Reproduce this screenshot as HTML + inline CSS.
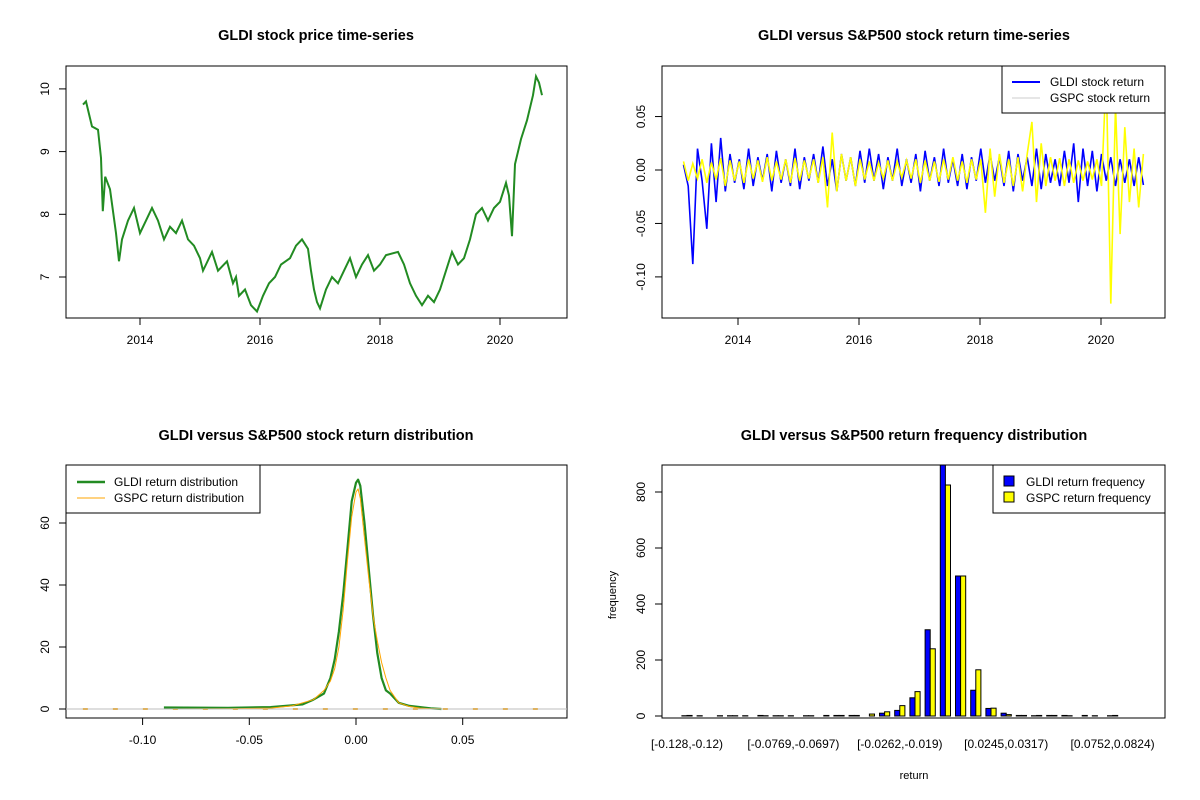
<!DOCTYPE html>
<html><head><meta charset="utf-8"><style>
html,body{margin:0;padding:0;background:#fff}
svg{display:block;font-family:"Liberation Sans",Arial,sans-serif}
</style></head><body>
<svg id="s" width="1200" height="800" xmlns="http://www.w3.org/2000/svg"></svg>
<script>
// ---- Panel 1: price series
const priceYears=[2013.05,2013.1,2013.15,2013.2,2013.3,2013.35,2013.38,2013.42,2013.5,2013.6,2013.65,2013.7,2013.8,2013.9,2014.0,2014.1,2014.2,2014.3,2014.4,2014.5,2014.6,2014.7,2014.8,2014.9,2015.0,2015.05,2015.1,2015.2,2015.3,2015.45,2015.55,2015.6,2015.65,2015.75,2015.85,2015.95,2016.05,2016.15,2016.25,2016.35,2016.5,2016.6,2016.7,2016.8,2016.85,2016.9,2016.95,2017.0,2017.1,2017.2,2017.3,2017.4,2017.5,2017.6,2017.7,2017.8,2017.9,2018.0,2018.1,2018.3,2018.4,2018.5,2018.6,2018.7,2018.8,2018.9,2019.0,2019.1,2019.2,2019.3,2019.4,2019.5,2019.6,2019.7,2019.8,2019.9,2020.0,2020.1,2020.15,2020.2,2020.25,2020.35,2020.45,2020.55,2020.6,2020.65,2020.7];
const priceValues=[9.75,9.8,9.6,9.4,9.35,8.9,8.05,8.6,8.4,7.7,7.25,7.6,7.9,8.1,7.7,7.9,8.1,7.9,7.6,7.8,7.7,7.9,7.6,7.5,7.3,7.1,7.2,7.4,7.1,7.25,6.9,7.0,6.7,6.8,6.55,6.45,6.7,6.9,7.0,7.2,7.3,7.5,7.6,7.45,7.1,6.8,6.6,6.5,6.8,7.0,6.9,7.1,7.3,7.0,7.2,7.35,7.1,7.2,7.35,7.4,7.2,6.9,6.7,6.55,6.7,6.6,6.8,7.1,7.4,7.2,7.3,7.6,8.0,8.1,7.9,8.1,8.2,8.5,8.3,7.65,8.8,9.2,9.5,9.9,10.2,10.1,9.9];
const priceTicksY=[7,8,9,10];
const yearTicks=[2014,2016,2018,2020];
// ---- Panel 2: returns (sampled, evenly spaced 2013.1 .. 2020.7)
const gldiReturns=[0.005,-0.015,-0.088,0.02,-0.01,-0.055,0.025,-0.03,0.03,-0.02,0.015,-0.012,0.01,-0.018,0.02,-0.015,0.012,-0.01,0.015,-0.02,0.018,-0.012,0.01,-0.015,0.02,-0.018,0.012,-0.01,0.015,-0.012,0.022,-0.015,0.01,-0.02,0.015,-0.01,0.012,-0.015,0.018,-0.012,0.02,-0.01,0.015,-0.018,0.012,-0.01,0.02,-0.015,0.01,-0.012,0.015,-0.02,0.018,-0.01,0.012,-0.015,0.02,-0.012,0.01,-0.015,0.015,-0.018,0.012,-0.01,0.02,-0.012,0.015,-0.01,0.012,-0.015,0.018,-0.02,0.015,-0.01,0.012,-0.015,0.02,-0.018,0.015,-0.012,0.01,-0.015,0.018,-0.012,0.025,-0.03,0.02,-0.015,0.018,-0.02,0.015,-0.01,0.012,-0.015,0.01,-0.012,0.01,-0.015,0.012,-0.014];
const gspcReturns=[0.008,-0.01,0.006,-0.008,0.01,-0.012,0.007,-0.009,0.011,-0.015,0.009,-0.01,0.008,-0.012,0.01,-0.008,0.009,-0.011,0.012,-0.01,0.008,-0.009,0.01,-0.012,0.011,-0.01,0.009,-0.008,0.01,-0.012,0.012,-0.035,0.035,-0.02,0.015,-0.01,0.012,-0.015,0.01,-0.009,0.008,-0.01,0.007,-0.008,0.009,-0.01,0.008,-0.007,0.009,-0.008,0.01,-0.012,0.009,-0.01,0.008,-0.011,0.01,-0.009,0.012,-0.01,0.008,-0.012,0.01,-0.009,0.01,-0.04,0.02,-0.025,0.015,-0.012,0.01,-0.015,0.012,-0.02,0.015,0.045,-0.03,0.025,-0.015,0.012,-0.01,0.011,-0.015,0.01,-0.012,0.009,-0.01,0.008,-0.009,0.01,-0.015,0.09,-0.125,0.06,-0.06,0.04,-0.03,0.02,-0.035,0.015];
const returnTicksY=[-0.10,-0.05,0.00,0.05];
// ---- Panel 3: densities
const densX=[-0.09,-0.06,-0.04,-0.03,-0.025,-0.02,-0.015,-0.012,-0.01,-0.008,-0.006,-0.004,-0.002,0,0.001,0.002,0.004,0.006,0.008,0.01,0.012,0.014,0.016,0.02,0.025,0.03,0.035,0.04];
const gldiDensity=[0.5,0.4,0.6,1.2,1.5,3,5,10,16,25,37,52,67,73,74,72,60,45,30,18,10,6,5,2,1,0.6,0.2,0];
const gspcDensity=[0,0.1,0.3,1,2,3,6,9,13,20,32,48,62,70,71,68,55,42,30,22,15,10,6,2,0.8,0.3,0.1,0.1];
const densTicksX=[-0.10,-0.05,0.00,0.05];
const densTicksY=[0,20,40,60];
// ---- Panel 4: histogram
const binLabels=["[-0.128,-0.12)","[-0.0769,-0.0697)","[-0.0262,-0.019)","[0.0245,0.0317)","[0.0752,0.0824)"];
const gldiFreq=[1,1,0,1,1,2,1,1,1,0,2,2,0,10,20,65,308,900,500,92,27,10,2,1,2,2,0,1,1];
const gspcFreq=[2,0,1,1,0,1,1,0,1,2,2,2,7,15,37,87,240,825,500,165,28,5,2,2,2,1,2,0,2];
const freqTicks=[0,200,400,600,800];

const NS="http://www.w3.org/2000/svg", S=document.getElementById('s');
function el(tag,attrs,parent,txt){const e=document.createElementNS(NS,tag);for(const k in attrs)e.setAttribute(k,attrs[k]);if(txt!==undefined)e.textContent=txt;(parent||S).appendChild(e);return e;}
function grp(name){const g=el('g',{});return g;}
function txt(g,x,y,s,o){const t=el('text',Object.assign({x:x,y:y,'font-size':12,'text-anchor':'middle',fill:'#000'},o||{}),g,s);return t;}
function box(g,x0,y0,x1,y1){el('rect',{x:x0,y:y0,width:x1-x0,height:y1-y0,fill:'none',stroke:'#000','stroke-width':1},g);}
function yTick(g,x0,y,label){el('line',{x1:x0-7,x2:x0,y1:y,y2:y,stroke:'#000'},g);txt(g,x0-17,y,label,{transform:`rotate(-90 ${x0-17} ${y})`,dy:0});}
function xTick(g,x,y1,label){el('line',{x1:x,x2:x,y1:y1,y2:y1+7,stroke:'#000'},g);txt(g,x,y1+26,label);}
function title(g,x,y,s){txt(g,x,y,s,{'font-weight':'bold','font-size':14.5});}

// Panel 1
{const g=grp('price-panel');
 const X=t=>140+(t-2014)*60, Y=v=>277-(v-7)*62.7;
 title(g,316,40,'GLDI stock price time-series');
 box(g,66,66,567,318);
 let d=priceYears.map((t,i)=>(i?'L':'M')+X(t).toFixed(1)+' '+Y(priceValues[i]).toFixed(1)).join(' ');
 const p=el('path',{d:d,fill:'none',stroke:'#228B22','stroke-width':2},g);
 
 priceTicksY.forEach(v=>yTick(g,66,Y(v),String(v)));
 yearTicks.forEach(t=>xTick(g,X(t),318,String(t)));}

// Panel 2
{const g=grp('return-series-panel');
 const X0=2013.1,X1=2020.7,X=t=>738+(t-2014)*60.5, Y=v=>170-v*1069;
 title(g,914,40,'GLDI versus S&P500 stock return time-series');
 box(g,662,66,1165,318);
 function series(arr,col,w,name){const n=arr.length;let d=arr.map((v,i)=>(i?'L':'M')+X(X0+(X1-X0)*i/(n-1)).toFixed(1)+' '+Y(v).toFixed(1)).join(' ');
  const p=el('path',{d:d,fill:'none',stroke:col,'stroke-width':w},g);}
 series(gldiReturns,'#0000ff',1.6,'gldi-return-line');
 series(gspcReturns,'#ffff00',1.6,'gspc-return-line');
 returnTicksY.forEach(v=>yTick(g,662,Y(v),v.toFixed(2)));
 yearTicks.forEach(t=>xTick(g,X(t),318,String(t)));
 const L=grp('return-legend');g.appendChild(L);
 el('rect',{x:1002,y:66,width:163,height:47,fill:'#fff',stroke:'#000'},L);
 el('line',{x1:1012,x2:1040,y1:82,y2:82,stroke:'#0000ff','stroke-width':2},L);
 el('line',{x1:1012,x2:1040,y1:98,y2:98,stroke:'#ccc','stroke-width':1},L);
 txt(L,1050,86,'GLDI stock return',{'text-anchor':'start'});
 txt(L,1050,102,'GSPC stock return',{'text-anchor':'start'});}

// Panel 3
{const g=grp('density-panel');
 const X=v=>356+v*2134, Y=v=>709-v*3.1;
 title(g,316,440,'GLDI versus S&P500 stock return distribution');
 box(g,66,465,567,718);
 el('line',{x1:X(-0.128),x2:X(0.09),y1:Y(0),y2:Y(0),stroke:'#ffa500','stroke-width':2,'stroke-dasharray':'5 25'},g);
 function line(ys,col,w,name){let d=densX.map((x,i)=>(i?'L':'M')+X(x).toFixed(1)+' '+Y(ys[i]).toFixed(1)).join(' ');
  const p=el('path',{d:d,fill:'none',stroke:col,'stroke-width':w,'stroke-linejoin':'round'},g);}
 line(gldiDensity,'#228B22',2.2,'gldi-density-line');
 line(gspcDensity,'#ffa500',1,'gspc-density-line');
 el('line',{x1:66,x2:567,y1:Y(0),y2:Y(0),stroke:'#bebebe'},g);
 densTicksY.forEach(v=>yTick(g,66,Y(v),String(v)));
 densTicksX.forEach(v=>xTick(g,X(v),718,v.toFixed(2)));
 const L=grp('density-legend');g.appendChild(L);
 el('rect',{x:66,y:465,width:194,height:48,fill:'#fff',stroke:'#000'},L);
 el('line',{x1:77,x2:105,y1:482,y2:482,stroke:'#228B22','stroke-width':2.5},L);
 el('line',{x1:77,x2:105,y1:498,y2:498,stroke:'#ffa500','stroke-width':1},L);
 txt(L,114,486,'GLDI return distribution',{'text-anchor':'start'});
 txt(L,114,502,'GSPC return distribution',{'text-anchor':'start'});}

// Panel 4
{const g=grp('histogram-panel');
 const C=k=>687+15.2*k, Y=v=>716-v*0.28, bw=5.1;
 title(g,914,440,'GLDI versus S&P500 return frequency distribution');
 const cp=el('clipPath',{id:'cp4'},g);el('rect',{x:662,y:465,width:503,height:253},cp);
 const bars=el('g',{'clip-path':'url(#cp4)'},g);
 gldiFreq.forEach((v,k)=>{const r=el('rect',{x:C(k)-bw,y:Y(v),width:bw,height:v*0.28,fill:'#0000ff',stroke:'#000','stroke-width':1},bars);
  });
 gspcFreq.forEach((v,k)=>{const r=el('rect',{x:C(k),y:Y(v),width:bw,height:v*0.28,fill:'#ffff00',stroke:'#000','stroke-width':1},bars);
  });
 box(g,662,465,1165,718);
 freqTicks.forEach(v=>yTick(g,662,Y(v),String(v)));
 binLabels.forEach((s,i)=>txt(g,C(i*7),748,s));
 txt(g,914,779,'return',{'font-size':11});
 txt(g,616,595,'frequency',{'font-size':11,transform:'rotate(-90 616 595)'});
 const L=grp('histogram-legend');g.appendChild(L);
 el('rect',{x:993,y:465,width:172,height:48,fill:'#fff',stroke:'#000'},L);
 el('rect',{x:1004,y:476,width:10,height:10,fill:'#0000ff',stroke:'#000'},L);
 el('rect',{x:1004,y:492,width:10,height:10,fill:'#ffff00',stroke:'#000'},L);
 txt(L,1026,486,'GLDI return frequency',{'text-anchor':'start'});
 txt(L,1026,502,'GSPC return frequency',{'text-anchor':'start'});}
</script>
</body></html>
